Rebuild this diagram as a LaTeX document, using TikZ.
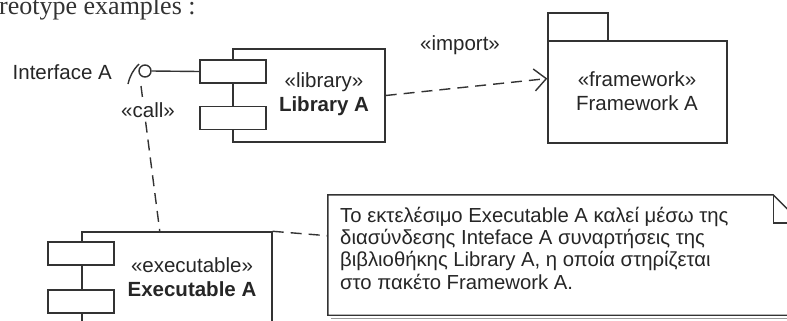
\documentclass[tikz,border=0pt]{standalone}
\usepackage{fontspec}
\setmainfont{Liberation Sans}
\newfontfamily\serifA{Liberation Serif}
\usetikzlibrary{arrows.meta,calc}
\begin{document}
\begin{tikzpicture}[x=1bp,y=-1bp,
  ln/.style={draw=black!80, line width=1.4bp},
  box/.style={ln, rectangle, inner sep=0pt},
  port/.style={box, fill=white, minimum width=66bp, minimum height=23bp},
  lbl/.style={font=\fontsize{20.5bp}{24bp}\selectfont, text=black!85, inner sep=0pt, align=center},
  dep/.style={ln, dash pattern=on 11bp off 7bp},
]
\useasboundingbox (0,0) rectangle (787,320);
\clip (0,0) rectangle (787,320);
\fill[white] (0,0) rectangle (787,320);

% title fragment
\node[font=\serifA\fontsize{26bp}{30bp}\selectfont, anchor=base west, inner sep=0pt, text=black!80] (title) at (-1,14) {reotype examples :};

% Library A component
\node[box, minimum width=152bp, minimum height=93bp] (lib) at (309,95.5) {};
\node[port] (lp1) at (233,71.5) {};
\node[port] (lp2) at (233,118) {};
\node[lbl] (libl) at (324,94) {«library»\\\textbf{Library A}};

% Interface
\node[lbl, anchor=east] (ifl) at (112,72) {Interface A};
\node[circle, ln, fill=white, minimum size=12bp, inner sep=0pt] (ball) at (145,71) {};
\draw[ln] (ball.east) -- (lp1.west);
\coordinate (sockA) at (139,64);
\coordinate (sockB) at (128,84);
\draw[ln] (sockA) to[bend right=15] (sockB);
\coordinate (sock) at (141,86);

% Framework A package
\node[box, minimum width=60bp, minimum height=28bp] (fwtab) at (578,27) {};
\node[box, minimum width=179bp, minimum height=102bp] (fw) at (637.5,92) {};
\node[lbl] (fwl) at (637,91) {«framework»\\Framework A};

% import dependency
\draw[dep, -{Straight Barb[length=12bp,width=22bp]}] (lib.east) -- ($(fw.north west)!0.37!(fw.south west)$);
\node[lbl] (impl) at (460,45) {«import»};

% Executable A component
\node[box, minimum width=190bp, minimum height=108bp] (exe) at (177,286) {};
\node[port] (ep1) at (81,253.5) {};
\node[port] (ep2) at (81,301.5) {};
\node[lbl] (exel) at (192,277) {«executable»\\\textbf{Executable A}};

% call dependency
\draw[dep] (sock) -- ($(exe.north west)!0.41!(exe.north east)$);
\node[lbl, fill=white, inner sep=1pt] (calll) at (148,110) {«call»};

% note
\node[rectangle, minimum width=473bp, minimum height=120bp, inner sep=0pt] (note) at (564.5,255) {};
\draw[black!40, line width=1.3bp] ($(note.south west)+(3,3)$) -- ($(note.south east)+(3,3)$);
\draw[ln, fill=white] (note.south west) -- (note.north west) -- ($(note.north east)+(-28,0)$) -- ($(note.north east)+(0,28)$) -- (note.south east) -- cycle;
\draw[ln] ($(note.north east)+(-28,0)$) -- ($(note.north east)+(-28,28)$) -- ($(note.north east)+(0,28)$);
\node[lbl, align=left, anchor=base west, font=\fontsize{20.3bp}{22.3bp}\selectfont] (notet) at (340,289) {Το εκτελέσιμο Executable A καλεί μέσω της\\διασύνδεσης Inteface A συναρτήσεις της\\βιβλιοθήκης Library A, η οποία στηρίζεται\\στο πακέτο Framework A.};
\draw[dep] (exe.north east) -- ($(note.north west)!0.34!(note.south west)$);
\end{tikzpicture}
\end{document}
